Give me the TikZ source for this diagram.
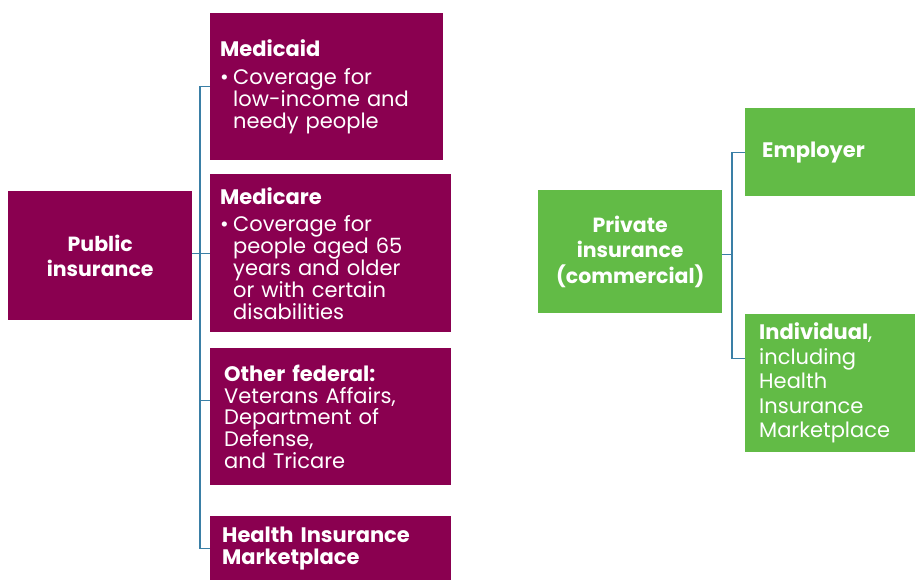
\documentclass[tikz,border=0pt]{standalone}
\usepackage{fontspec}
\setmainfont{Poppins}
\definecolor{plum}{HTML}{8A0050}
\definecolor{leaf}{HTML}{62BB46}
\definecolor{branch}{HTML}{3A7FA6}
\newcommand{\bul}{\makebox[13pt][l]{•}}
\newcommand{\hang}{\hspace*{13pt}}
\begin{document}
\begin{tikzpicture}[x=1pt, y=-1pt,
    pubbox/.style={fill=plum, text=white, anchor=north west, align=left, inner xsep=10pt, inner ysep=0pt, font=\fontsize{21}{21.8}\selectfont},
    privbox/.style={fill=leaf, text=white, anchor=north west, align=left, inner xsep=14pt, inner ysep=0pt, font=\fontsize{21}{24.5}\selectfont},
    hub/.style={anchor=north west, text=white, align=center, inner sep=0pt, font=\bfseries\fontsize{20.5}{25.5}\selectfont},
    link/.style={branch, line width=1.2pt}]
    \useasboundingbox (0,0) rectangle (915,582);

    \node[hub, fill=plum, minimum width=184pt, minimum height=129pt] (public) at (8, 191) {Public\\insurance};
    \node[pubbox, text width=213pt, minimum height=147pt] (medicaid) at (210, 13) {\textbf{Medicaid}\\[6pt]\bul Coverage for\\\hang low-income and\\\hang needy people};
    \node[pubbox, text width=221pt, minimum height=158pt] (medicare) at (210, 174) {\textbf{Medicare}\\[6pt]\bul Coverage for\\\hang people aged 65\\\hang years and older\\\hang or with certain\\\hang disabilities};
    \node[pubbox, inner xsep=14pt, text width=213pt, minimum height=137pt] (federal) at (210, 348) {\textbf{Other federal:}\\Veterans Affairs,\\Department of\\Defense,\\and Tricare};
    \node[pubbox, inner xsep=12pt, text width=217pt, minimum height=64pt] (market) at (210, 516) {\textbf{Health Insurance}\\\textbf{Marketplace}};

    \node[hub, fill=leaf, minimum width=184pt, minimum height=123pt] (private) at (538, 190) {Private\\insurance\\(commercial)};
    \node[privbox, inner xsep=17pt, text width=136pt, minimum height=88pt] (employer) at (745, 108) {\textbf{Employer}};
    \node[privbox, text width=142pt, minimum height=138pt] (individual) at (745, 314) {\textbf{Individual},\\including\\Health\\Insurance\\Marketplace};

    % public branch
    \draw[link] (medicaid.west) -- ++(-10,0) |- (market.west);
    \draw[link] (public.east |- medicare.west) -- (medicare.west);
    \draw[link] ([yshift=16pt]federal.west) -- ++(-10,0);

    % private branch
    \draw[link] (employer.west) -- ++(-13,0) coordinate (fork) |- ([yshift=25pt]individual.west);
    \draw[link] ([yshift=-3pt]private.east) -- ([yshift=-3pt]private.east -| fork);
\end{tikzpicture}
\end{document}
